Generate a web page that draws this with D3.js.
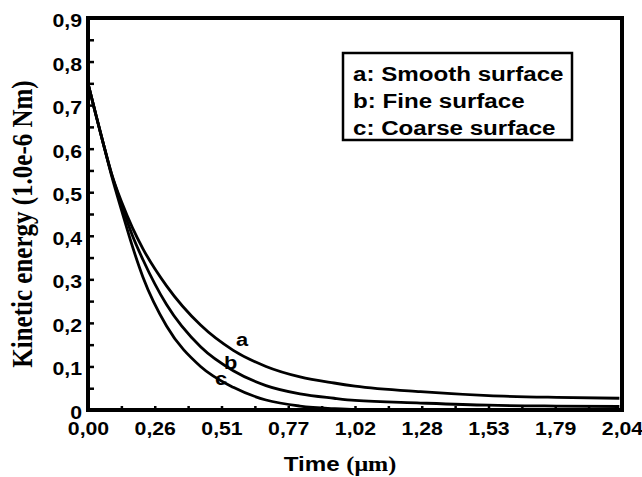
<!DOCTYPE html>
<html>
<head>
<meta charset="utf-8">
<script src="https://cdn.jsdelivr.net/npm/d3@7"></script>
<style>
  body { margin: 0; background: #fff; }
  svg { display: block; }
</style>
</head>
<body>
<script>
// data
const time = [0, 0.03, 0.06, 0.09, 0.13, 0.17, 0.21, 0.30, 0.43, 0.555, 0.68, 0.81, 0.94, 1.02, 1.27, 1.53, 1.79, 2.03]
const smooth = [0.75, 0.678, 0.608, 0.542, 0.475, 0.418, 0.37, 0.285, 0.195, 0.137, 0.10, 0.076, 0.062, 0.055, 0.042, 0.033, 0.029, 0.027]
const fine = [0.75, 0.678, 0.608, 0.542, 0.468, 0.40, 0.345, 0.242, 0.145, 0.09, 0.056, 0.037, 0.027, 0.022, 0.016, 0.011, 0.009, 0.008]
const coarse = [0.75, 0.678, 0.608, 0.538, 0.455, 0.375, 0.305, 0.193, 0.10, 0.052, 0.023, 0.009, 0.003, 0.001, 0, 0, 0, 0]

const seriesNames = ["a", "b", "c"]
const legendLabels = ["a: Smooth surface", "b: Fine surface", "c: Coarse surface"]
const labelTimes = [0.565, 0.52, 0.485]
const labelValues = [0.147, 0.094, 0.057]

const xTicks = [0, 0.255, 0.51, 0.765, 1.02, 1.275, 1.53, 1.785, 2.04]
const xTickLabels = ["0,00", "0,26", "0,51", "0,77", "1,02", "1,28", "1,53", "1,79", "2,04"]
const yTicks = [0, 0.1, 0.2, 0.3, 0.4, 0.5, 0.6, 0.7, 0.8, 0.9]
const yTickLabels = ["0", "0,1", "0,2", "0,3", "0,4", "0,5", "0,6", "0,7", "0,8", "0,9"]

const MARGIN = { TOP: 18, BOTTOM: 67, LEFT: 88, RIGHT: 20 }
const WIDTH = 642 - MARGIN.LEFT - MARGIN.RIGHT
const HEIGHT = 477 - MARGIN.TOP - MARGIN.BOTTOM
const SX = 1.15 // the scan is stretched sideways, so is the text
const SANS = "'Liberation Sans', Arial, sans-serif"
const SERIF = "'Liberation Serif', 'Times New Roman', serif"

const svg = d3.select("body").append("svg")
  .attr("width", 642)
  .attr("height", 477)

svg.append("rect").attr("width", 642).attr("height", 477).attr("fill", "#fff")

const g = svg.append("g")
  .attr("transform", `translate(${MARGIN.LEFT}, ${MARGIN.TOP})`)

const x = d3.scaleLinear().domain([0, 2.04]).range([0, WIDTH])
const y = d3.scaleLinear().domain([0, 0.9]).range([HEIGHT, 0])

// inner tick marks
const xMinor = d3.range(0, 17).map(i => i * 0.1275)
const yMinor = d3.range(0, 19).map(i => i * 0.05)

g.append("g")
  .attr("transform", `translate(0, ${HEIGHT})`)
  .call(d3.axisBottom(x).tickValues(xMinor).tickSize(-4).tickFormat(""))
  .call(a => a.select(".domain").remove())
  .selectAll("line").attr("stroke", "#000").attr("stroke-width", 2.5)

g.append("g")
  .call(d3.axisLeft(y).tickValues(yMinor).tickSize(-6).tickFormat(""))
  .call(a => a.select(".domain").remove())
  .selectAll("line").attr("stroke", "#000").attr("stroke-width", 2.5)

// tick labels
const xLab = g.append("g")
  .attr("transform", `translate(0, ${HEIGHT})`)
  .call(d3.axisBottom(x).tickValues(xTicks).tickSize(0).tickPadding(12)
    .tickFormat((d, i) => xTickLabels[i]))
xLab.select(".domain").remove()
xLab.selectAll("text")
  .attr("font-family", SANS).attr("font-weight", "bold").attr("font-size", 18.5)
  .attr("fill", "#000")
  .attr("transform", `scale(${SX}, 1)`)

const yLab = g.append("g")
  .call(d3.axisLeft(y).tickValues(yTicks).tickSize(0).tickPadding(5.2)
    .tickFormat((d, i) => yTickLabels[i]))
yLab.select(".domain").remove()
yLab.selectAll("text")
  .attr("font-family", SANS).attr("font-weight", "bold").attr("font-size", 18.5)
  .attr("fill", "#000")
  .attr("dy", "0.46em")
  .attr("transform", `scale(${SX}, 1)`)

// curves
const values = [smooth, fine, coarse]
const line = d3.line()
  .x((d, i) => x(time[i]))
  .y(d => y(d))
  .curve(d3.curveMonotoneX)

g.selectAll(".curve")
  .data(values)
  .enter().append("path")
  .attr("class", "curve")
  .attr("d", line)
  .attr("fill", "none")
  .attr("stroke", "#000")
  .attr("stroke-width", 2.8)

// curve letters
g.selectAll(".tag")
  .data(seriesNames)
  .enter().append("text")
  .attr("class", "tag")
  .attr("transform", (d, i) => `translate(${x(labelTimes[i])}, ${y(labelValues[i])}) scale(${SX}, 1)`)
  .attr("font-family", SANS).attr("font-weight", "bold").attr("font-size", 19)
  .text(d => d)

// frame
g.append("rect")
  .attr("width", WIDTH).attr("height", HEIGHT)
  .attr("fill", "none").attr("stroke", "#000").attr("stroke-width", 4)

// legend box
svg.append("rect")
  .attr("x", 343).attr("y", 53).attr("width", 229).attr("height", 87)
  .attr("fill", "#fff").attr("stroke", "#000").attr("stroke-width", 2.5)

svg.selectAll(".leg")
  .data(legendLabels)
  .enter().append("text")
  .attr("class", "leg")
  .attr("transform", (d, i) => `translate(353, ${81 + i * 27}) scale(${SX}, 1)`)
  .attr("font-family", SANS).attr("font-weight", "bold").attr("font-size", 21)
  .text(d => d)

// axis titles
const xt = svg.append("text")
  .attr("transform", `translate(340, 471) scale(${SX}, 1)`)
  .attr("text-anchor", "middle")
  .attr("font-weight", "bold").attr("font-size", 21)
xt.append("tspan").attr("font-family", SANS).text("Time ")
xt.append("tspan").attr("font-family", SERIF).text("(μm)")

svg.append("text")
  .attr("transform", `translate(32, 224) rotate(-90) scale(1, ${SX})`)
  .attr("text-anchor", "middle")
  .attr("font-family", SERIF).attr("font-weight", "bold").attr("font-size", 25)
  .text("Kinetic energy (1.0e-6 Nm)")
</script>
</body>
</html>
